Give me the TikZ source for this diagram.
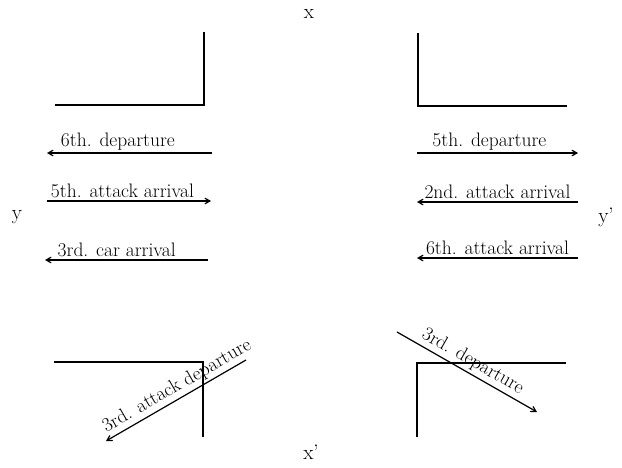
\documentclass[tikz,border=0pt]{standalone}
\usepackage{tikz}
\usetikzlibrary{arrows}
\tikzstyle{road} = [draw,line width=2.4pt]
\tikzstyle{move} = [draw,-angle 60,line width=1.2pt]
\tikzstyle{lbl} = [font=\fontsize{19.5}{21}\selectfont, inner sep=2.5pt]
\tikzstyle{axis} = [font=\fontsize{21}{23}\selectfont]

\begin{document}
\begin{tikzpicture}[x=1pt,y=-1pt]
    \useasboundingbox (0,0) rectangle (622,467);
    % corners of the crossing
    \draw[road] (55,105) -- (204,105) -- (204,32);
    \draw[road] (418,33) -- (418,106) -- (567,106);
    \draw[road] (54,362) -- (203,362) -- (203,437);
    \draw[road] (417,437) -- (417,363) -- (566,363);
    % axes
    \node[axis] (x) at (309,14) {x};
    \node[axis] (xp) at (311,452) {x'};
    \node[axis] (y) at (17,217) {y};
    \node[axis] (yp) at (606,217) {y'};
    % left lane
    \coordinate (l1s) at (212,153);
    \coordinate (l1e) at (47,153);
    \coordinate (l2s) at (47,201);
    \coordinate (l2e) at (211,201);
    \coordinate (l3s) at (208,260);
    \coordinate (l3e) at (45,260);
    \draw[move] (l1s) -- node[above,lbl,pos=0.57] {6th. departure} (l1e);
    \draw[move] (l2s) -- node[above,lbl,pos=0.46] {5th. attack arrival} (l2e);
    \draw[move] (l3s) -- node[above,lbl,pos=0.56] {3rd. car arrival} (l3e);
    % right lane
    \coordinate (r1s) at (417,153);
    \coordinate (r1e) at (578,153);
    \coordinate (r2s) at (578,202);
    \coordinate (r2e) at (417,202);
    \coordinate (r3s) at (578,258);
    \coordinate (r3e) at (417,258);
    \draw[move] (r1s) -- node[above,lbl,pos=0.45] {5th. departure} (r1e);
    \draw[move] (r2s) -- node[above,lbl] {2nd. attack arrival} (r2e);
    \draw[move] (r3s) -- node[above,lbl] {6th. attack arrival} (r3e);
    % diagonal moves
    \coordinate (d1s) at (246,360);
    \coordinate (d1e) at (106,441);
    \coordinate (d2s) at (397,332);
    \coordinate (d2e) at (537,412);
    \draw[move] (d1s) -- node[above,sloped,lbl,pos=0.45] {3rd. attack departure} (d1e);
    \draw[move] (d2s) -- node[above,sloped,lbl,pos=0.5] {3rd. departure} (d2e);
\end{tikzpicture}
\end{document}
